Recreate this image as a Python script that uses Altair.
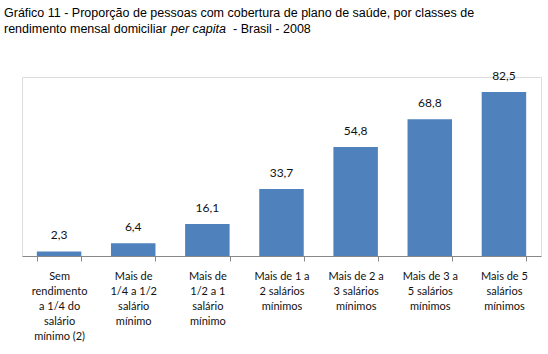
import altair as alt
import pandas as pd

categories = [
    "Sem|rendimento|a 1/4 do|salário|mínimo (2)",
    "Mais de|1/4 a 1/2|salário|mínimo",
    "Mais de|1/2 a 1|salário|mínimo",
    "Mais de 1 a|2 salários|mínimos",
    "Mais de 2 a|3 salários|mínimos",
    "Mais de 3 a|5 salários|mínimos",
    "Mais de 5|salários|mínimos",
]
values = [2.3, 6.4, 16.1, 33.7, 54.8, 68.8, 82.5]

title_line1 = "Gráfico 11 - Proporção de pessoas com cobertura de plano de saúde, por classes de"
title_line2a = "rendimento mensal domiciliar"
title_line2b = "per capita"
title_line2c = "- Brasil - 2008"

df = pd.DataFrame({"cat": categories, "v": values})

x_enc = alt.X(
    "cat:N",
    sort=categories,
    title=None,
    scale=alt.Scale(paddingInner=0.4, paddingOuter=0.2),
    axis=alt.Axis(
        labelExpr="split(datum.label, '|')",
        labelAngle=0,
        labelFont="Lato",
        labelFontSize=11,
        labelColor="#111111",
        labelLineHeight=15,
        labelPadding=9,
        labelBaseline="top",
        tickBand="extent",
        tickSize=5,
        tickColor="#888888",
        domainColor="#888888",
        labelLimit=0,
    ),
)
y_enc = alt.Y("v:Q", scale=alt.Scale(domain=[0, 90]), axis=None)

base = alt.Chart(df)
bars = base.mark_bar(color="#4F81BD").encode(x=x_enc, y=y_enc)
labels = base.transform_calculate(
    lbl="replace(format(datum.v, '.1f'), '.', ',')"
).mark_text(baseline="bottom", dy=-9, font="Lato", fontSize=12, color="#111111").encode(
    x=alt.X("cat:N", sort=categories), y="v:Q", text="lbl:N"
)

one = alt.Data(values=[{"a": 1}])
tfont = "Liberation Sans"
tsize = 12.5
def piece(txt, x, y, style="normal"):
    return alt.Chart(one).mark_text(
        align="left", baseline="alphabetic", font=tfont, fontSize=tsize,
        fontStyle=style, color="#000000"
    ).encode(x=alt.value(x), y=alt.value(y), text=alt.value(txt))

t1 = piece(title_line1, -18, -60)
t2 = piece(title_line2a, -18, -44)
t3 = piece(title_line2b, 149, -44, "italic")
t4 = piece(title_line2c, 211, -44)

chart = alt.layer(bars, labels, t1, t2, t3, t4).properties(
    width=519, height=179,
    autosize=alt.AutoSizeParams(type="none"),
    padding={"left": 22, "top": 77, "right": 7, "bottom": 98},
).configure_view(stroke=None).configure(background="white")

chart.save("out.html", embed_options={"renderer": "svg", "actions": False})
